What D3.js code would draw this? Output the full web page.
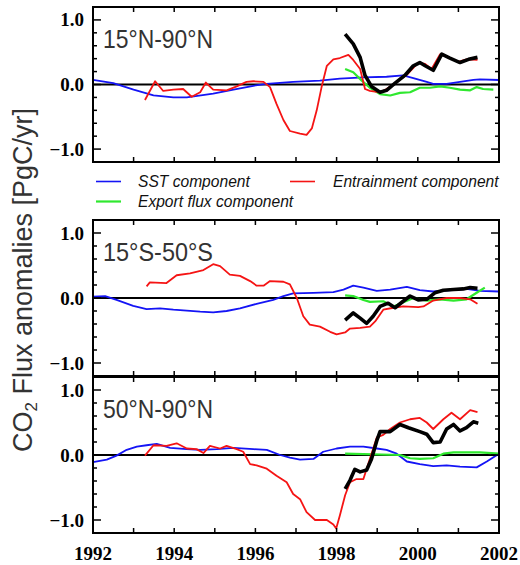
<!DOCTYPE html>
<html>
<head>
<meta charset="utf-8">
<script src="https://cdn.jsdelivr.net/npm/d3@7"></script>
<style>
  body { margin: 0; background: #fff; }
  svg { display: block; }
</style>
</head>
<body>
<div class="canvas"></div>
<script>
// data: [year, anomaly PgC/yr]
const yearTicks = [1992, 1994, 1996, 1998, 2000, 2002];
const valueTicks = [-1.0, 0.0, 1.0];
const panelNames = ["15°N-90°N", "15°S-50°S", "50°N-90°N"];
const legendNames = ["SST component", "Entrainment component", "Export flux component"];

// 15N-90N
const nhSst = [[1992.0,0.07],[1992.5,0.02],[1993.0,-0.08],[1993.49,-0.17],[1993.98,-0.2],[1994.31,-0.2],[1994.96,-0.14],[1995.46,-0.08],[1995.95,-0.02],[1996.28,0.01],[1996.93,0.04],[1997.59,0.06],[1998.08,0.09],[1998.66,0.11],[1999.23,0.12],[1999.64,0.14],[1999.89,0.1],[2000.22,0.04],[2000.38,0.01],[2000.71,0.01],[2001.04,0.04],[2001.37,0.07],[2001.53,0.08],[2002.0,0.07]];
const nhEnt = [[1993.28,-0.24],[1993.53,0.05],[1993.73,-0.1],[1993.98,-0.08],[1994.22,-0.07],[1994.43,-0.19],[1994.64,-0.12],[1994.78,0.03],[1994.96,-0.08],[1995.29,-0.09],[1995.54,-0.03],[1995.78,0.04],[1995.95,0.05],[1996.2,0.04],[1996.36,-0.04],[1996.52,-0.3],[1996.69,-0.55],[1996.85,-0.72],[1997.1,-0.76],[1997.26,-0.78],[1997.39,-0.68],[1997.51,-0.4],[1997.63,-0.04],[1997.76,0.29],[1997.92,0.39],[1998.08,0.41],[1998.29,0.46],[1998.41,0.38],[1998.58,0.24],[1998.7,-0.07],[1998.82,-0.1],[1999.07,-0.12],[1999.23,-0.07],[1999.48,0.04],[1999.73,0.15],[2000.01,0.34],[2000.18,0.32],[2000.34,0.24],[2000.55,0.47],[2000.75,0.42],[2001.0,0.35],[2001.2,0.39],[2001.47,0.38]];
const nhExp = [[1998.21,0.24],[1998.41,0.19],[1998.62,0.06],[1998.82,-0.05],[1999.07,-0.15],[1999.32,-0.17],[1999.56,-0.13],[1999.81,-0.12],[2000.05,-0.05],[2000.3,-0.05],[2000.55,-0.03],[2000.79,-0.05],[2001.04,-0.08],[2001.29,-0.09],[2001.45,-0.04],[2001.61,-0.07],[2001.86,-0.08]];
const nhTot = [[1998.21,0.78],[1998.41,0.63],[1998.58,0.42],[1998.7,0.14],[1998.86,-0.03],[1999.07,-0.12],[1999.23,-0.09],[1999.44,0.02],[1999.68,0.14],[1999.89,0.29],[2000.05,0.34],[2000.18,0.29],[2000.38,0.22],[2000.59,0.47],[2000.79,0.41],[2001.04,0.34],[2001.25,0.39],[2001.47,0.42]];

// 15S-50S
const shSst = [[1992.0,0.02],[1992.3,0.03],[1992.58,-0.03],[1992.99,-0.12],[1993.32,-0.17],[1993.65,-0.16],[1993.98,-0.18],[1994.64,-0.21],[1994.96,-0.22],[1995.29,-0.2],[1995.62,-0.16],[1996.03,-0.09],[1996.44,-0.03],[1996.69,0.03],[1996.93,0.07],[1997.43,0.08],[1997.92,0.09],[1998.17,0.13],[1998.41,0.19],[1998.66,0.16],[1998.99,0.11],[1999.32,0.13],[1999.73,0.17],[2000.05,0.12],[2000.38,0.1],[2001.2,0.14],[2001.53,0.11],[2002.0,0.1]];
const shEnt = [[1993.32,0.18],[1993.4,0.24],[1993.81,0.23],[1994.06,0.35],[1994.39,0.38],[1994.72,0.43],[1994.96,0.52],[1995.13,0.49],[1995.37,0.36],[1995.62,0.34],[1995.87,0.26],[1996.03,0.19],[1996.2,0.19],[1996.36,0.26],[1996.69,0.25],[1996.85,0.21],[1997.02,0.0],[1997.18,-0.28],[1997.34,-0.41],[1997.59,-0.44],[1997.84,-0.52],[1998.0,-0.56],[1998.21,-0.53],[1998.33,-0.47],[1998.58,-0.46],[1998.82,-0.44],[1998.95,-0.36],[1999.15,-0.18],[1999.4,-0.15],[1999.64,-0.13],[2000.01,-0.14],[2000.14,-0.13],[2000.38,-0.04],[2000.71,0.0],[2001.04,0.0],[2001.29,-0.02],[2001.47,-0.09]];
const shExp = [[1998.21,0.04],[1998.41,0.03],[1998.66,-0.03],[1998.82,-0.06],[1999.15,-0.05],[1999.4,-0.13],[1999.56,-0.09],[1999.89,0.0],[2000.22,-0.04],[2000.55,-0.02],[2000.88,-0.04],[2001.2,-0.02],[2001.45,0.08],[2001.65,0.16]];
const shTot = [[1998.21,-0.34],[1998.41,-0.23],[1998.58,-0.31],[1998.74,-0.39],[1998.9,-0.28],[1999.07,-0.13],[1999.27,-0.08],[1999.44,-0.15],[1999.64,-0.05],[1999.81,0.03],[2000.01,-0.03],[2000.22,-0.02],[2000.42,0.08],[2000.63,0.12],[2000.88,0.13],[2001.12,0.14],[2001.29,0.16],[2001.47,0.15]];

// 50N-90N
const hnSst = [[1992.0,-0.11],[1992.34,-0.07],[1992.58,-0.01],[1992.83,0.08],[1993.08,0.13],[1993.32,0.15],[1993.57,0.17],[1993.9,0.11],[1994.31,0.09],[1994.64,0.08],[1995.05,0.09],[1995.46,0.11],[1995.95,0.09],[1996.28,0.08],[1996.61,0.0],[1996.85,-0.04],[1997.1,-0.07],[1997.43,-0.06],[1997.67,0.05],[1998.0,0.1],[1998.33,0.13],[1998.66,0.13],[1998.99,0.1],[1999.23,0.08],[1999.48,0.02],[1999.73,-0.1],[2000.05,-0.14],[2000.38,-0.17],[2000.71,-0.16],[2001.04,-0.18],[2001.45,-0.19],[2001.7,-0.1],[2002.0,0.02]];
const hnEnt = [[1993.28,-0.01],[1993.49,0.15],[1993.81,0.14],[1994.06,0.18],[1994.31,0.1],[1994.55,0.09],[1994.72,0.03],[1994.88,0.14],[1995.13,0.1],[1995.29,0.14],[1995.54,0.09],[1995.7,0.05],[1995.87,-0.14],[1996.03,-0.16],[1996.28,-0.21],[1996.52,-0.32],[1996.77,-0.42],[1996.93,-0.6],[1997.1,-0.68],[1997.26,-0.88],[1997.47,-1.0],[1997.76,-1.0],[1997.92,-1.07],[1997.99,-1.13],[1998.08,-0.93],[1998.21,-0.62],[1998.33,-0.42],[1998.49,-0.37],[1998.66,-0.37],[1998.82,-0.06],[1998.99,0.27],[1999.15,0.31],[1999.32,0.4],[1999.56,0.5],[1999.81,0.55],[2000.05,0.57],[2000.22,0.5],[2000.38,0.4],[2000.63,0.55],[2000.83,0.65],[2001.04,0.55],[2001.29,0.69],[2001.47,0.66]];
const hnExp = [[1998.21,0.02],[1999.56,0.0],[1999.81,-0.05],[2000.05,-0.06],[2000.38,-0.05],[2000.63,0.02],[2000.88,0.04],[2001.53,0.04],[2002.0,0.02]];
const hnTot = [[1998.21,-0.52],[1998.33,-0.39],[1998.45,-0.22],[1998.58,-0.26],[1998.74,-0.23],[1998.86,-0.06],[1998.99,0.22],[1999.07,0.36],[1999.32,0.36],[1999.56,0.47],[1999.77,0.42],[2000.05,0.36],[2000.22,0.32],[2000.38,0.19],[2000.55,0.2],[2000.71,0.4],[2000.88,0.47],[2001.04,0.37],[2001.2,0.42],[2001.37,0.51],[2001.49,0.49]];

const panels = [
  { name: panelNames[0], top: 7,   bottom: 162, sst: nhSst, ent: nhEnt, exp: nhExp, tot: nhTot },
  { name: panelNames[1], top: 220, bottom: 376, sst: shSst, ent: shEnt, exp: shExp, tot: shTot },
  { name: panelNames[2], top: 377, bottom: 533, sst: hnSst, ent: hnEnt, exp: hnExp, tot: hnTot }
];

const colors = { sst: "#1414f5", ent: "#f51414", exp: "#2fe82f", tot: "#000" };

const svgWidth = 520, svgHeight = 565;
const left = 93, right = 499;

const svg = d3.select(".canvas").append("svg")
  .attr("width", svgWidth)
  .attr("height", svgHeight);

const x = d3.scaleLinear().domain([1992, 2002]).range([left, right]);
const years = d3.range(1992, 2003);

panels.forEach((p, i) => {
  const y = d3.scaleLinear().domain([-1.2, 1.2]).range([p.bottom, p.top]);
  const g = svg.append("g");

  // 가로 0선
  g.append("line")
    .attr("x1", left).attr("x2", right)
    .attr("y1", y(0)).attr("y2", y(0))
    .attr("stroke", "#000").attr("stroke-width", 2);

  const line = d3.line().x(d => x(d[0])).y(d => y(d[1]));
  [["sst", 1.8], ["exp", 2.2], ["ent", 1.8], ["tot", 3.6]].forEach(([k, w]) => {
    g.append("path")
      .datum(p[k])
      .attr("d", line)
      .attr("fill", "none")
      .attr("stroke", colors[k])
      .attr("stroke-width", w)
      .attr("stroke-linejoin", "round");
  });

  // ticks (inward, both sides)
  const minor = d3.range(-1.2, 1.21, 0.2).map(v => Math.round(v * 10) / 10);
  minor.forEach(v => {
    const len = valueTicks.includes(v) ? 8 : 4;
    g.append("line").attr("x1", left).attr("x2", left + len)
      .attr("y1", y(v)).attr("y2", y(v)).attr("stroke", "#000").attr("stroke-width", 1.5);
    g.append("line").attr("x1", right).attr("x2", right - len)
      .attr("y1", y(v)).attr("y2", y(v)).attr("stroke", "#000").attr("stroke-width", 1.5);
  });
  years.forEach(yr => {
    g.append("line").attr("x1", x(yr)).attr("x2", x(yr))
      .attr("y1", p.top).attr("y2", p.top + 5).attr("stroke", "#000").attr("stroke-width", 1.5);
    g.append("line").attr("x1", x(yr)).attr("x2", x(yr))
      .attr("y1", p.bottom).attr("y2", p.bottom - 5).attr("stroke", "#000").attr("stroke-width", 1.5);
  });

  g.append("rect")
    .attr("x", left).attr("y", p.top)
    .attr("width", right - left).attr("height", p.bottom - p.top)
    .attr("fill", "none").attr("stroke", "#000").attr("stroke-width", 2);

  g.selectAll(".ylab")
    .data(valueTicks)
    .join("text")
    .attr("x", 84)
    .attr("y", d => y(d) + 6.5)
    .attr("text-anchor", "end")
    .attr("font-family", "Liberation Serif")
    .attr("font-weight", "bold")
    .attr("font-size", 19)
    .text(d => (d < 0 ? "\u2212" : "") + Math.abs(d).toFixed(1));

  g.append("text")
    .attr("x", 103)
    .attr("y", p.top + 41)
    .attr("font-family", "Liberation Sans")
    .attr("font-size", 26)
    .attr("textLength", 110)
    .attr("lengthAdjust", "spacingAndGlyphs")
    .attr("fill", "#333")
    .text(p.name);

  if (i === 2) {
    g.selectAll(".xlab")
      .data(yearTicks)
      .join("text")
      .attr("x", d => x(d))
      .attr("y", 560)
      .attr("text-anchor", "middle")
      .attr("font-family", "Liberation Serif")
      .attr("font-weight", "bold")
      .attr("font-size", 19)
      .text(d => d);
  }
});

// 범례
const legendItems = [
  { label: legendNames[0], key: "sst", lx: 96, tx: 138, ly: 181.5 },
  { label: legendNames[1], key: "ent", lx: 290, tx: 333, ly: 181.5 },
  { label: legendNames[2], key: "exp", lx: 96, tx: 138, ly: 201.5 }
];
const legend = svg.selectAll(".legend")
  .data(legendItems)
  .join("g")
  .attr("class", "legend");
legend.append("line")
  .attr("x1", d => d.lx).attr("x2", d => d.lx + 25)
  .attr("y1", d => d.ly).attr("y2", d => d.ly)
  .attr("stroke", d => colors[d.key])
  .attr("stroke-width", d => d.key === "exp" ? 2.2 : 1.6);
legend.append("text")
  .attr("x", d => d.tx)
  .attr("y", d => d.ly + 5.5)
  .attr("font-family", "Liberation Sans")
  .attr("font-style", "italic")
  .attr("font-size", 15.6)
  .attr("fill", "#111")
  .text(d => d.label);

// y축 제목
const title = svg.append("text")
  .attr("transform", "translate(32,280) rotate(-90)")
  .attr("text-anchor", "middle")
  .attr("font-family", "Liberation Sans")
  .attr("font-size", 27)
  .attr("fill", "#333");
title.append("tspan").text("CO");
title.append("tspan").attr("font-size", 17).attr("dy", 5).text("2");
title.append("tspan").attr("dy", -5).text(" Flux anomalies [PgC/yr]");
</script>
</body>
</html>
